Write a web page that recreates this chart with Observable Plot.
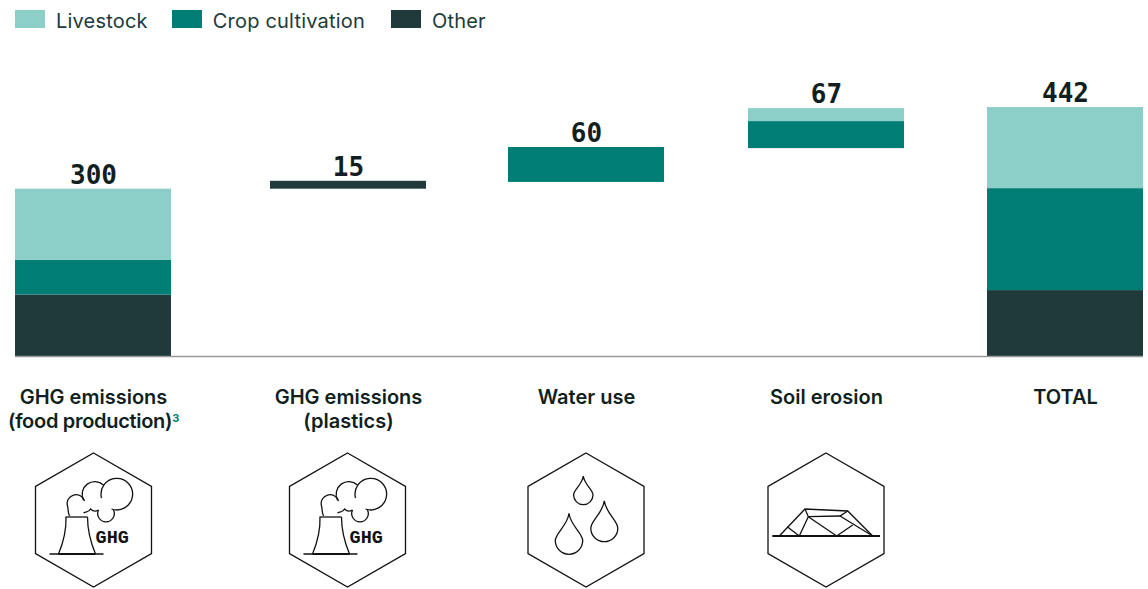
<!DOCTYPE html>
<html>
<head>
<meta charset="utf-8">
<script src="https://cdn.jsdelivr.net/npm/d3@7"></script>
<script src="https://cdn.jsdelivr.net/npm/@observablehq/plot@0.6"></script>
<style>
  html, body { margin: 0; padding: 0; background: #fff; }
  #legend { height: 40px; display: flex; align-items: flex-start; padding-left: 15px; box-sizing: border-box;
    font: 400 20px "Inter", sans-serif; letter-spacing: 0.2px; color: #203A3B; }
  #legend .item { display: flex; align-items: center; height: 18px; margin-top: 12px; margin-right: 26px; }
  #legend .item:first-child { margin-right: 24px; }
  #legend i { display: block; width: 30px; height: 18px; margin-right: 11px; margin-top: -4px; }
  svg { display: block; }
</style>
</head>
<body>
<div id="legend"></div>
<div id="chart"></div>
<script>
// ---- data ----
const categories = ["GHG emissions\n(food production)", "GHG emissions\n(plastics)", "Water use", "Soil erosion", "TOTAL"];
const totals = [300, 15, 60, 67, 442];
const start = [0, 297, 309, 369, 0];
const other = [109, 14, 0, 0, 117];
const crop = [62, 0, 62, 48, 181];
const livestock = [126, 0, 0, 23, 144];
const seriesNames = ["Other", "Crop cultivation", "Livestock"];
const seriesValues = [other, crop, livestock];
const colors = {"Livestock": "#8BCFC8", "Crop cultivation": "#007E75", "Other": "#203A3B"};
const legendOrder = ["Livestock", "Crop cultivation", "Other"];

// ---- layout ----
const barLeft = [15, 270, 508, 748, 987];
const barWidth = 156;
const iconCenter = [93.5, 347.5, 586, 826];
const iconKind = ["ghg", "ghg", "water", "soil"];
const iconY = 480;

// long table of stacked segments
const segments = [];
categories.forEach((c, i) => {
  let base = start[i];
  seriesNames.forEach((s, k) => {
    const v = seriesValues[k][i];
    if (v > 0) segments.push({i, series: s, y1: base, y2: base + v});
    base += v;
  });
});
const tops = categories.map((c, i) => ({
  i, label: totals[i], y: start[i] + other[i] + crop[i] + livestock[i]
}));

// ---- legend ----
document.getElementById("legend").innerHTML = legendOrder.map(n =>
  `<div class="item"><i style="background:${colors[n]}"></i><span>${n}</span></div>`).join("");

// ---- icons ----
const hexagon = "M0 -67 L58 -33.5 L58 33.5 L0 67 L-58 33.5 L-58 -33.5 Z";
function drop(tx, ty, cx, cy, r) {
  return `M${tx} ${ty} C${tx + r * 0.1} ${ty + (cy - ty) * 0.45} ${cx + r} ${cy - r * 0.55} ${cx + r} ${cy} ` +
         `A${r} ${r} 0 1 1 ${cx - r} ${cy} C${cx - r} ${cy - r * 0.55} ${tx - r * 0.1} ${ty + (cy - ty) * 0.45} ${tx} ${ty} Z`;
}
const iconPaths = {
  ghg: [
    "M-44 34 H10",
    "M-35 34 H2",
    "M-28 -3 H-6",
    "M-27.5 -3 C-27 12 -30 22 -35 34",
    "M-6 -3 C-6 12 -3 22 2 34",
    "M-24 -4 C-26 -8 -25 -11 -26 -14 A8.7 8.7 0 0 1 -9 -19",
    "M-10 -7 C-7 -9 -5 -7 -3 -11 C-1 -9 2 -8 5 -10",
    "M-10 -20 A12.7 12.7 0 0 1 10 -35",
    "M8 -22 A15.8 15.8 0 1 1 18 -11",
    "M5 -10 A8.3 8.3 0 1 0 20 -10"
  ],
  water: [drop(-2.7, -44, -2.7, -25, 9.7), drop(18.3, -19.3, 18.3, 8.2, 13.5), drop(-17, -6.7, -17, 20.6, 13.7)],
  soil: [
    "M-53.7 16 H54",
    "M-46.7 16 L-21 -11 L21.7 -9 L46.7 16",
    "M-21 -11 L-17.7 -3.3 L14 -4 L21.7 -9",
    "M-17.7 -3.3 L-26.7 16",
    "M-17.7 -3.3 L10.7 16 L26.7 5",
    "M14 -4 L46.7 16",
    "M-38.7 6.7 L-26.7 16"
  ]
};
function iconMark() {
  const NS = "http://www.w3.org/2000/svg";
  const root = document.createElementNS(NS, "g");
  iconCenter.forEach((cx, i) => {
    const g = document.createElementNS(NS, "g");
    g.setAttribute("transform", `translate(${cx},${iconY})`);
    [hexagon, ...iconPaths[iconKind[i]]].forEach(d => {
      const p = document.createElementNS(NS, "path");
      p.setAttribute("d", d);
      p.setAttribute("fill", "none");
      p.setAttribute("stroke", "#111");
      p.setAttribute("stroke-width", d === "M-35 34 H2" || d === "M-53.7 16 H54" ? 1.8 : 1.3);
      g.appendChild(p);
    });
    if (iconKind[i] === "ghg") {
      const t = document.createElementNS(NS, "text");
      t.textContent = "GHG";
      t.setAttribute("x", 18.7);
      t.setAttribute("y", 23);
      t.setAttribute("text-anchor", "middle");
      t.setAttribute("font-family", "Liberation Mono");
      t.setAttribute("font-weight", "700");
      t.setAttribute("font-size", 18.5);
      t.setAttribute("fill", "#111");
      g.appendChild(t);
    }
    root.appendChild(g);
  });
  return root;
}

// ---- chart ----
const mid = d => barLeft[d] + barWidth / 2;
const chart = Plot.plot({
  width: 1148,
  height: 549,
  marginTop: 67,
  marginBottom: 233,
  marginLeft: 0,
  marginRight: 0,
  x: {domain: [0, 1148], range: [0, 1148], axis: null},
  y: {domain: [0, 442], axis: null},
  color: {domain: legendOrder, range: legendOrder.map(n => colors[n])},
  marks: [
    Plot.rectY(segments, {
      x1: d => barLeft[d.i], x2: d => barLeft[d.i] + barWidth,
      y1: "y1", y2: "y2", fill: "series"
    }),
    Plot.ruleY([0], {x1: barLeft[0], x2: barLeft[4] + barWidth, stroke: "#999", strokeWidth: 1.5}),
    Plot.text(tops, {
      x: d => mid(d.i), y: "y", text: "label", dy: -5.5, lineAnchor: "bottom",
      fontFamily: "DejaVu Sans Mono", fontWeight: 700, fontSize: 26, fill: "#111F20"
    }),
    Plot.text(categories, {
      x: (d, i) => mid(i), y: () => 0, text: d => d, dy: 30, lineAnchor: "top", lineHeight: 1.22,
      fontFamily: "Inter", fontWeight: 600, fontSize: 20, fill: "#111F20"
    }),
    iconMark
  ]
});
// label fine-tuning: tighter second line and a teal footnote marker
chart.querySelectorAll("tspan").forEach(t => {
  if (t.textContent === "(food production)") {
    t.style.letterSpacing = "-0.3px";
    const s = document.createElementNS("http://www.w3.org/2000/svg", "tspan");
    s.textContent = "3";
    s.setAttribute("font-size", 11);
    s.setAttribute("font-weight", 700);
    s.setAttribute("dy", "-6");
    s.setAttribute("fill", "#007E75");
    t.appendChild(s);
  }
});
document.getElementById("chart").appendChild(chart);
</script>
</body>
</html>
